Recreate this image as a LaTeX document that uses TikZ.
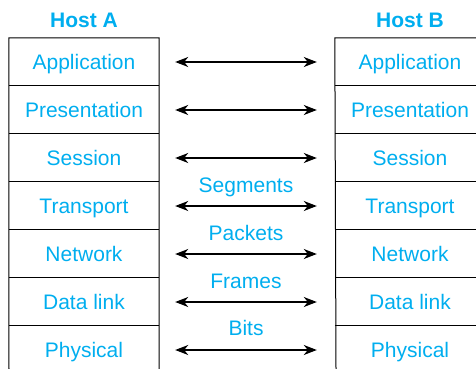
\documentclass[tikz,border=0pt]{standalone}
\usepackage{fontspec}
\setmainfont{Liberation Sans}
\usetikzlibrary{arrows.meta}
\definecolor{layerblue}{RGB}{0,174,239}
\begin{document}
\begin{tikzpicture}[x=1pt,y=-1pt,
  bluetext/.style={text=layerblue,font=\fontsize{21}{23}\selectfont,
    text height=15pt,text depth=0pt},
  layer/.style={bluetext,minimum width=150pt,minimum height=48pt,inner sep=0pt},
  hosttitle/.style={bluetext,font=\fontsize{21}{23}\selectfont\bfseries},
  unitlabel/.style={bluetext},
  peer/.style={{Stealth[length=13pt,width=10pt,inset=4pt]}-{Stealth[length=13pt,width=10pt,inset=4pt]},
    line width=1.3pt,shorten <=16pt,shorten >=18pt},
  frame/.style={line width=1pt}]
\useasboundingbox (0,0) rectangle (476,369);

% host titles
\node[hosttitle] (ha) at (84,20) {Host A};
\node[hosttitle] (hb) at (410,20) {Host B};

% protocol layers of both hosts
\foreach \n/\t [count=\i] in {1/Application,2/Presentation,3/Session,4/Transport,5/Network,6/Data link,7/Physical}{
  \node[layer] (a\n) at (84,14+48*\i) {\t};
  \node[layer] (b\n) at (410,14+48*\i) {\t};
}

% stack outlines
\coordinate (abot) at (9,369);
\coordinate (bbot) at (336,369);
\coordinate (bedge) at (476,38);
\draw[frame] (abot) -- (a1.north west) -- (a1.north east) -- (abot -| a1.east);
\draw[frame] (bbot) -- (b1.north west) -- (b1.north west -| bedge);
\foreach \n in {2,...,7}{
  \draw[frame] (a\n.north west) -- (a\n.north east);
  \draw[frame] (b\n.north west) -- (b\n.north west -| bedge);
}

% peer-to-peer arrows
\foreach \n in {1,...,7}{
  \draw[peer] (a\n.east) -- (b\n.west);
}

% data unit labels
\node[unitlabel] (seg) at (246,185) {Segments};
\node[unitlabel] (pkt) at (246,233) {Packets};
\node[unitlabel] (frm) at (246,281) {Frames};
\node[unitlabel] (bit) at (246,328) {Bits};
\end{tikzpicture}
\end{document}
